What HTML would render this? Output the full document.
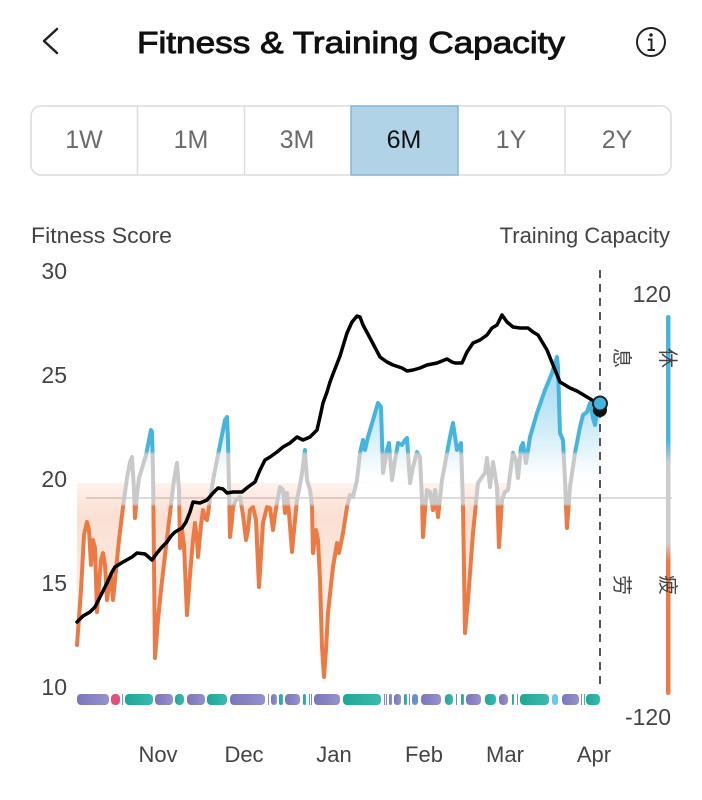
<!DOCTYPE html>
<html>
<head>
<meta charset="utf-8">
<style>
  html,body{margin:0;padding:0;background:#fff;}
  svg{display:block;}
  text{font-family:"Liberation Sans","Noto Sans CJK SC",sans-serif;}
</style>
</head>
<body>
<svg width="702" height="800" viewBox="0 0 702 800" xmlns="http://www.w3.org/2000/svg">
  <defs>
    <linearGradient id="lineGrad" gradientUnits="userSpaceOnUse" x1="0" y1="0" x2="0" y2="800">
      <stop offset="0" stop-color="#45b5e0"/>
      <stop offset="0.564" stop-color="#45b5e0"/>
      <stop offset="0.568" stop-color="#c9c9c9"/>
      <stop offset="0.630" stop-color="#c9c9c9"/>
      <stop offset="0.633" stop-color="#ec7a44"/>
      <stop offset="1" stop-color="#ec7a44"/>
    </linearGradient>
    <linearGradient id="fillGrad" gradientUnits="userSpaceOnUse" x1="0" y1="0" x2="0" y2="800">
      <stop offset="0.4375" stop-color="#45b5e0" stop-opacity="0.55"/>
      <stop offset="0.525" stop-color="#45b5e0" stop-opacity="0.3"/>
      <stop offset="0.5975" stop-color="#45b5e0" stop-opacity="0"/>
      <stop offset="0.6025" stop-color="#ec7a44" stop-opacity="0"/>
      <stop offset="0.604" stop-color="#ec7a44" stop-opacity="0.1"/>
      <stop offset="0.645" stop-color="#ec7a44" stop-opacity="0.24"/>
      <stop offset="0.74" stop-color="#ec7a44" stop-opacity="0.14"/>
      <stop offset="0.85" stop-color="#ec7a44" stop-opacity="0"/>
    </linearGradient>
    <linearGradient id="barGrad" gradientUnits="userSpaceOnUse" x1="0" y1="315" x2="0" y2="695">
      <stop offset="0" stop-color="#45b5e0"/>
      <stop offset="0.33" stop-color="#45b5e0"/>
      <stop offset="0.39" stop-color="#cccccc"/>
      <stop offset="0.60" stop-color="#cccccc"/>
      <stop offset="0.65" stop-color="#ec7a44"/>
      <stop offset="1" stop-color="#ec7a44"/>
    </linearGradient>
    <linearGradient id="pur" x1="0" y1="0" x2="1" y2="0">
      <stop offset="0" stop-color="#7a76bb"/>
      <stop offset="1" stop-color="#9692cc"/>
    </linearGradient>
    <linearGradient id="tea" x1="0" y1="0" x2="1" y2="0">
      <stop offset="0" stop-color="#1fa695"/>
      <stop offset="1" stop-color="#3cbab0"/>
    </linearGradient>
  </defs>

  <!-- Header -->
  <polyline points="57,29 44,41 57,53" fill="none" stroke="#222" stroke-width="2.5" stroke-linecap="round" stroke-linejoin="round"/>
  <text x="351" y="53" text-anchor="middle" font-size="31" fill="#111" stroke="#111" stroke-width="0.9" textLength="428" lengthAdjust="spacingAndGlyphs">Fitness &amp; Training Capacity</text>
  <circle cx="651" cy="42" r="14" fill="none" stroke="#222" stroke-width="2"/>
  <circle cx="651" cy="35" r="1.8" fill="#222"/>
  <path d="M648 39.5 H651.5 V50 M647.5 50 H655" fill="none" stroke="#222" stroke-width="2"/>

  <!-- Tabs -->
  <rect x="31" y="106" width="640" height="69" rx="10" ry="10" fill="#fff" stroke="#dcdcdc" stroke-width="1.5"/>
  <line x1="137.5" y1="106" x2="137.5" y2="175" stroke="#dcdcdc" stroke-width="1.5"/>
  <line x1="244.5" y1="106" x2="244.5" y2="175" stroke="#dcdcdc" stroke-width="1.5"/>
  <line x1="565" y1="106" x2="565" y2="175" stroke="#dcdcdc" stroke-width="1.5"/>
  <rect x="351" y="106" width="107" height="69" fill="#b1d3e8" stroke="#86b6d4" stroke-width="1.5"/>
  <g font-size="25" fill="#6a6a6a" text-anchor="middle">
    <text x="84" y="148">1W</text>
    <text x="191" y="148">1M</text>
    <text x="297" y="148">3M</text>
    <text x="404" y="148" fill="#111">6M</text>
    <text x="511" y="148">1Y</text>
    <text x="617" y="148">2Y</text>
  </g>

  <!-- Axis titles -->
  <text x="31" y="243" font-size="22" fill="#444" textLength="141" lengthAdjust="spacingAndGlyphs">Fitness Score</text>
  <text x="670" y="243" font-size="22" fill="#444" text-anchor="end">Training Capacity</text>

  <!-- Left ticks -->
  <g font-size="23" fill="#444" text-anchor="end">
    <text x="67" y="279">30</text>
    <text x="67" y="383">25</text>
    <text x="67" y="487">20</text>
    <text x="67" y="591">15</text>
    <text x="67" y="695">10</text>
  </g>
  <!-- Right ticks -->
  <g font-size="23" fill="#444" text-anchor="end">
    <text x="671" y="302">120</text>
    <text x="671" y="725">-120</text>
  </g>

  <!-- Baseline -->
  <line x1="86" y1="498" x2="672" y2="498" stroke="#d0d0d0" stroke-width="1.5"/>

  <!-- Training capacity fill -->
  <path fill="url(#fillGrad)" d="M77,645 L81,590 L84,535 L87,522 L89,530 L91,565 L93,540 L95,548 L97,612 L99,585 L101,560 L103,553 L105,565 L107,600 L109,585 L111,575 L113,600 L116,570 L119,540 L123,507 L127,478 L130,462 L132,457 L134,490 L135,518 L137,495 L139,478 L143,465 L146,455 L149,440 L151,430 L152,432 L153,470 L155,658 L158,620 L161,590 L165,555 L168,530 L171,505 L174,480 L177,463 L179,490 L180,548 L182,530 L184,545 L187,615 L190,575 L193,540 L195,523 L197,540 L198,557 L201,525 L203,510 L205,518 L207,520 L210,500 L214,475 L217,460 L221,440 L225,420 L227,417 L228,440 L230,537 L232,520 L233,507 L236,500 L240,497 L243,515 L246,540 L248,530 L250,510 L253,507 L256,520 L259,587 L261,555 L263,523 L267,507 L270,508 L273,530 L275,515 L277,503 L280,487 L283,490 L285,513 L287,493 L289,513 L292,552 L295,520 L297,500 L300,485 L302,473 L305,450 L307,480 L310,490 L312,507 L313,553 L316,530 L318,540 L320,580 L322,647 L324,677 L326,650 L328,613 L331,585 L333,567 L337,543 L339,553 L343,533 L347,507 L350,495 L353,497 L357,480 L360,453 L363,440 L365,450 L368,437 L373,420 L378,403 L381,407 L382,440 L383,473 L387,450 L389,443 L392,480 L395,460 L398,443 L402,445 L405,440 L407,438 L410,483 L413,467 L417,452 L420,457 L422,500 L423,537 L425,510 L427,490 L430,492 L433,510 L435,490 L438,517 L442,480 L447,453 L450,437 L453,423 L457,450 L461,443 L463,507 L465,633 L468,600 L473,533 L478,483 L482,477 L485,473 L487,458 L490,487 L493,462 L497,487 L499,547 L502,500 L505,492 L508,490 L511,467 L513,453 L516,460 L518,478 L521,447 L523,443 L526,463 L530,437 L537,413 L545,390 L552,373 L557,357 L558,367 L559,400 L560,433 L563,440 L565,480 L566,507 L567,528 L570,487 L575,453 L580,427 L583,415 L587,412 L590,403 L593,418 L595,425 L597,413 L600,405 L600,483 L77,483 Z"/>

  <!-- Training capacity line -->
  <polyline fill="none" stroke="url(#lineGrad)" stroke-width="4" stroke-linejoin="round" stroke-linecap="round" points="77,645 81,590 84,535 87,522 89,530 91,565 93,540 95,548 97,612 99,585 101,560 103,553 105,565 107,600 109,585 111,575 113,600 116,570 119,540 123,507 127,478 130,462 132,457 134,490 135,518 137,495 139,478 143,465 146,455 149,440 151,430 152,432 153,470 155,658 158,620 161,590 165,555 168,530 171,505 174,480 177,463 179,490 180,548 182,530 184,545 187,615 190,575 193,540 195,523 197,540 198,557 201,525 203,510 205,518 207,520 210,500 214,475 217,460 221,440 225,420 227,417 228,440 230,537 232,520 233,507 236,500 240,497 243,515 246,540 248,530 250,510 253,507 256,520 259,587 261,555 263,523 267,507 270,508 273,530 275,515 277,503 280,487 283,490 285,513 287,493 289,513 292,552 295,520 297,500 300,485 302,473 305,450 307,480 310,490 312,507 313,553 316,530 318,540 320,580 322,647 324,677 326,650 328,613 331,585 333,567 337,543 339,553 343,533 347,507 350,495 353,497 357,480 360,453 363,440 365,450 368,437 373,420 378,403 381,407 382,440 383,473 387,450 389,443 392,480 395,460 398,443 402,445 405,440 407,438 410,483 413,467 417,452 420,457 422,500 423,537 425,510 427,490 430,492 433,510 435,490 438,517 442,480 447,453 450,437 453,423 457,450 461,443 463,507 465,633 468,600 473,533 478,483 482,477 485,473 487,458 490,487 493,462 497,487 499,547 502,500 505,492 508,490 511,467 513,453 516,460 518,478 521,447 523,443 526,463 530,437 537,413 545,390 552,373 557,357 558,367 559,400 560,433 563,440 565,480 566,507 567,528 570,487 575,453 580,427 583,415 587,412 590,403 593,418 595,425 597,413 600,405"/>

  <!-- Fitness line -->
  <polyline fill="none" stroke="#000" stroke-width="3.5" stroke-linejoin="round" stroke-linecap="round" points="77,622 83,616 90,612 95,607 100,597 107,583 112,572 115,567 123,562 132,557 137,553 145,554 152,560 157,553 162,547 167,542 171,536 175,532 182,528 186,522 190,512 193,502 200,503 207,500 213,493 218,488 223,489 227,493 233,492 242,492 248,487 255,482 260,470 265,460 270,457 277,452 283,447 290,443 297,437 303,440 310,437 317,430 320,417 323,403 327,392 330,382 333,374 340,356 347,333 352,322 357,316 360,317 363,325 370,338 380,357 387,362 393,365 402,368 407,371 413,370 420,368 427,365 437,363 442,361 447,359 452,362 455,363 462,363 467,352 473,343 480,340 487,335 492,328 497,325 502,315 507,322 513,327 520,328 528,328 533,332 538,335 547,350 553,365 560,382 570,388 577,391 587,397 597,403 600,405"/>

  <!-- Dashed current line -->
  <line x1="600" y1="270" x2="600" y2="690" stroke="#555" stroke-width="2" stroke-dasharray="8,6"/>

  <!-- End marker -->
  <circle cx="600" cy="410" r="7" fill="#111"/>
  <circle cx="600" cy="403.5" r="7" fill="#45b5e0" stroke="#222" stroke-width="2"/>

  <!-- Right color bar -->
  <rect x="666" y="315" width="4.5" height="380" rx="2.2" fill="url(#barGrad)"/>

  <!-- Chinese side labels -->
  <g font-size="20" fill="#444" font-family="'Liberation Sans','Noto Sans CJK SC',sans-serif" text-anchor="middle">
    <text x="0" y="7" transform="translate(622,358) rotate(90)">息</text>
    <text x="0" y="7" transform="translate(668,358) rotate(90)">休</text>
    <text x="0" y="7" transform="translate(622,585) rotate(90)">劳</text>
    <text x="0" y="7" transform="translate(668,585) rotate(90)">疲</text>
  </g>

  <!-- Activity bar -->
  <g>
    <rect x="77" y="694" width="32" height="11" rx="4" fill="url(#pur)"/>
    <rect x="111" y="694" width="9" height="11" rx="4" fill="#e5507a"/>
    <rect x="122" y="694" width="1" height="11" fill="#3cbab0"/>
    <rect x="125" y="694" width="28" height="11" rx="4" fill="url(#tea)"/>
    <rect x="155" y="694" width="18" height="11" rx="4" fill="url(#pur)"/>
    <rect x="175" y="694" width="9" height="11" rx="4" fill="url(#tea)"/>
    <rect x="187" y="694" width="18" height="11" rx="4" fill="url(#pur)"/>
    <rect x="207" y="694" width="20" height="11" rx="4" fill="url(#tea)"/>
    <rect x="230" y="694" width="35" height="11" rx="4" fill="url(#pur)"/>
    <rect x="268" y="694" width="1" height="11" fill="#8a86c4"/>
    <rect x="271" y="694" width="6" height="11" rx="3" fill="url(#pur)"/>
    <rect x="279" y="694" width="4" height="11" rx="2" fill="url(#tea)"/>
    <rect x="285" y="694" width="15" height="11" rx="4" fill="url(#pur)"/>
    <rect x="303" y="694" width="3" height="11" rx="1.5" fill="url(#tea)"/>
    <rect x="309" y="694" width="1" height="11" fill="#3cbab0"/>
    <rect x="311" y="694" width="1" height="11" fill="#8a86c4"/>
    <rect x="314" y="694" width="26" height="11" rx="4" fill="url(#pur)"/>
    <rect x="343" y="694" width="38" height="11" rx="4" fill="url(#tea)"/>
    <rect x="384" y="694" width="1" height="11" fill="#8a86c4"/>
    <rect x="386" y="694" width="1" height="11" fill="#6a8fd0"/>
    <rect x="389" y="694" width="3" height="11" rx="1.5" fill="url(#pur)"/>
    <rect x="394" y="694" width="7" height="11" rx="3" fill="url(#pur)"/>
    <rect x="404" y="694" width="3" height="11" rx="1.5" fill="url(#tea)"/>
    <rect x="409" y="694" width="1" height="11" fill="#8a86c4"/>
    <rect x="412" y="694" width="6" height="11" rx="3" fill="#6a8fd0"/>
    <rect x="421" y="694" width="20" height="11" rx="4" fill="url(#pur)"/>
    <rect x="445" y="694" width="8" height="11" rx="4" fill="url(#tea)"/>
    <rect x="456" y="694" width="1" height="11" fill="#8a86c4"/>
    <rect x="461" y="694" width="3" height="11" rx="1.5" fill="url(#tea)"/>
    <rect x="466" y="694" width="15" height="11" rx="4" fill="url(#pur)"/>
    <rect x="485" y="694" width="11" height="11" rx="4" fill="url(#tea)"/>
    <rect x="499" y="694" width="9" height="11" rx="4" fill="url(#pur)"/>
    <rect x="512" y="694" width="2" height="11" rx="1" fill="url(#tea)"/>
    <rect x="517" y="694" width="1" height="11" fill="#8a86c4"/>
    <rect x="520" y="694" width="29" height="11" rx="4" fill="url(#tea)"/>
    <rect x="552" y="694" width="6" height="11" rx="3" fill="#6ec6e8"/>
    <rect x="562" y="694" width="17" height="11" rx="4" fill="url(#pur)"/>
    <rect x="581" y="694" width="1" height="11" fill="#8a86c4"/>
    <rect x="584" y="694" width="1" height="11" fill="#3cbab0"/>
    <rect x="586" y="694" width="14" height="11" rx="4" fill="url(#tea)"/>
  </g>

  <!-- Month labels -->
  <g font-size="22" fill="#444" text-anchor="middle">
    <text x="158" y="762">Nov</text>
    <text x="244" y="762">Dec</text>
    <text x="334" y="762">Jan</text>
    <text x="424" y="762">Feb</text>
    <text x="505" y="762">Mar</text>
    <text x="594" y="762">Apr</text>
  </g>
</svg>
</body>
</html>
